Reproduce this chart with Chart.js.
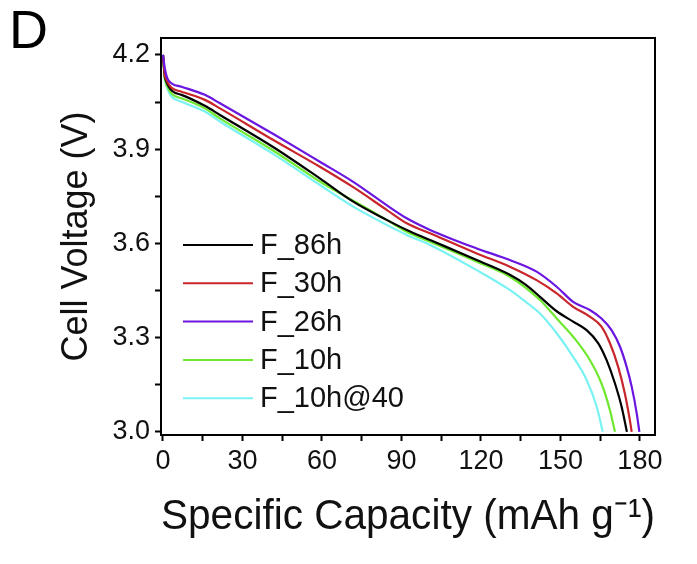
<!DOCTYPE html>
<html>
<head>
<meta charset="utf-8">
<script src="https://cdn.jsdelivr.net/npm/chart.js@4"></script>
<style>
  body { margin: 0; background: #fff; }
  #wrap { width: 697px; height: 564px; }
</style>
</head>
<body>
<div id="wrap"><canvas id="voltChart" width="697" height="564"></canvas></div>
<script>
// Dữ liệu (dung lượng mAh/g, điện áp V)
const seriesNames = ['F_86h', 'F_30h', 'F_26h', 'F_10h', 'F_10h@40'];
const seriesColors = ['#000000', '#c8262b', '#6a16e0', '#6fe830', '#7af2f2'];

const cap86 = [0, 0.8, 7, 15.8, 21.5, 42.3, 59.2, 71.8, 84.4, 92, 100.8, 118.4, 130.9, 137, 142.3, 148.6, 154.8, 159.9, 164.3, 167.4, 170.6, 173.1, 175.1];
const volt86 = [4.2, 4.126, 4.073, 4.038, 4.009, 3.903, 3.807, 3.733, 3.675, 3.643, 3.611, 3.547, 3.5, 3.468, 3.43, 3.384, 3.351, 3.324, 3.282, 3.229, 3.154, 3.08, 3.0];

const cap30 = [0, 0.8, 7, 15.8, 21.5, 42.3, 59.2, 71.8, 84.4, 92, 100.8, 118.4, 130.9, 141, 148.6, 154.8, 161.1, 165.5, 168.7, 171.8, 174.3, 176.2, 176.9];
const volt30 = [4.2, 4.131, 4.083, 4.057, 4.03, 3.926, 3.844, 3.779, 3.707, 3.664, 3.632, 3.568, 3.526, 3.483, 3.441, 3.398, 3.367, 3.335, 3.282, 3.207, 3.123, 3.038, 3.0];

const cap26 = [0, 0.8, 2, 7, 15.8, 21.5, 42.3, 59.2, 71.8, 84.4, 92, 100.8, 118.4, 130.9, 141, 148.6, 154.8, 161.1, 165.5, 169.3, 172.5, 175, 176.9, 178.8, 179.8];
const volt26 = [4.2, 4.152, 4.12, 4.099, 4.073, 4.046, 3.945, 3.86, 3.796, 3.722, 3.68, 3.643, 3.584, 3.547, 3.51, 3.462, 3.414, 3.388, 3.361, 3.324, 3.271, 3.207, 3.144, 3.059, 3.0];

const cap10 = [0, 0.8, 7, 15.8, 21.5, 42.3, 59.2, 71.8, 84.4, 92, 100.8, 118.4, 130.9, 142.3, 148.6, 154.8, 161.1, 165.5, 168.7, 170.6];
const volt10 = [4.2, 4.12, 4.062, 4.03, 3.998, 3.892, 3.797, 3.736, 3.675, 3.637, 3.605, 3.542, 3.494, 3.42, 3.361, 3.303, 3.229, 3.154, 3.069, 3.0];

const cap10at40 = [0, 0.8, 7, 15.8, 21.5, 42.3, 59.2, 71.8, 84.4, 92, 100.8, 118.4, 130.9, 136, 142.3, 148.6, 154.8, 159.9, 163.7, 166];
const volt10at40 = [4.2, 4.115, 4.051, 4.02, 3.988, 3.881, 3.786, 3.717, 3.659, 3.627, 3.595, 3.515, 3.452, 3.42, 3.377, 3.314, 3.239, 3.165, 3.08, 3.0];

const xMajorTicks = [0, 30, 60, 90, 120, 150, 180];
const yMajorTicks = [3.0, 3.3, 3.6, 3.9, 4.2];

const allCaps = [cap86, cap30, cap26, cap10, cap10at40];
const allVolts = [volt86, volt30, volt26, volt10, volt10at40];

const FONT = "'Liberation Sans', Arial, sans-serif";

function toPoints(xs, ys) {
    return xs.map((x, i) => ({ x: x, y: ys[i] }));
}

// thêm vạch phụ ở giữa các vạch chính
function withMinor(major) {
    const out = [];
    major.forEach((v, i) => {
        out.push(v);
        if (i < major.length - 1) out.push((v + major[i + 1]) / 2);
    });
    return out;
}

const datasets = seriesNames.map((name, i) => ({
    label: name,
    data: toPoints(allCaps[i], allVolts[i]),
    borderColor: seriesColors[i],
    backgroundColor: seriesColors[i],
    borderWidth: 2.2,
    pointRadius: 0,
    tension: 0.4,
    cubicInterpolationMode: 'monotone',
    fill: false
}));
// vẽ theo thứ tự: các đường nhạt ở dưới
datasets.forEach((d, i) => { d.order = [3, 2, 1, 4, 5][i]; });

// khung, chú thích và chữ "D"
const framePlugin = {
    id: 'frame',
    afterDraw(chart) {
        const ctx = chart.ctx;
        const a = chart.chartArea;
        ctx.save();
        ctx.strokeStyle = '#000';
        ctx.lineWidth = 2;
        ctx.strokeRect(a.left, a.top, a.right - a.left, a.bottom - a.top);

        ctx.font = '29px ' + FONT;
        ctx.textBaseline = 'middle';
        ctx.fillStyle = '#111';
        chart.data.datasets.forEach((ds, i) => {
            const y = a.top + 207 + i * 38.3;
            ctx.strokeStyle = ds.borderColor;
            ctx.lineWidth = 2;
            ctx.beginPath();
            ctx.moveTo(a.left + 22, y);
            ctx.lineTo(a.left + 92, y);
            ctx.stroke();
            ctx.fillText(ds.label, a.left + 99, y + 1);
        });

        ctx.font = '54px ' + FONT;
        ctx.textBaseline = 'alphabetic';
        ctx.fillStyle = '#000';
        ctx.fillText('D', 9, 48);
        ctx.restore();
    }
};

const ctx = document.getElementById('voltChart').getContext('2d');
const voltChart = new Chart(ctx, {
    type: 'line',
    data: { datasets: datasets },
    options: {
        responsive: false,
        animation: false,
        layout: { padding: { top: 38, right: 42, left: 0, bottom: 0 } },
        plugins: {
            legend: { display: false },
            tooltip: { enabled: false }
        },
        scales: {
            x: {
                type: 'linear',
                min: -0.75,
                max: 185.7,
                afterFit: function(scale) { scale.height = 129; },
                afterBuildTicks: function(scale) {
                    scale.ticks = withMinor(xMajorTicks).map(v => ({ value: v }));
                },
                ticks: {
                    autoSkip: false,
                    maxRotation: 0,
                    padding: 4,
                    color: '#111',
                    font: { family: FONT, size: 27 },
                    callback: function(value) {
                        return xMajorTicks.includes(value) ? String(value) : '';
                    }
                },
                grid: { drawOnChartArea: false, tickLength: 6, color: '#000', tickWidth: 2 },
                border: { display: false },
                title: {
                    display: true,
                    text: 'Specific Capacity (mAh g⁻¹)',
                    color: '#111',
                    font: { family: FONT, size: 43 },
                    padding: { top: 0, bottom: 21 }
                }
            },
            y: {
                min: 2.99,
                max: 4.254,
                afterFit: function(scale) { scale.width = 161; },
                afterBuildTicks: function(scale) {
                    scale.ticks = withMinor(yMajorTicks).map(v => ({ value: v }));
                },
                ticks: {
                    autoSkip: false,
                    padding: 5,
                    color: '#111',
                    font: { family: FONT, size: 27 },
                    callback: function(value) {
                        const hit = yMajorTicks.find(t => Math.abs(t - value) < 1e-6);
                        return hit !== undefined ? hit.toFixed(1) : '';
                    }
                },
                grid: { drawOnChartArea: false, tickLength: 6, color: '#000', tickWidth: 2 },
                border: { display: false },
                title: {
                    display: true,
                    text: 'Cell Voltage (V)',
                    color: '#111',
                    font: { family: FONT, size: 36 },
                    padding: { top: 55, bottom: 0 }
                }
            }
        }
    },
    plugins: [framePlugin]
});
</script>
</body>
</html>
